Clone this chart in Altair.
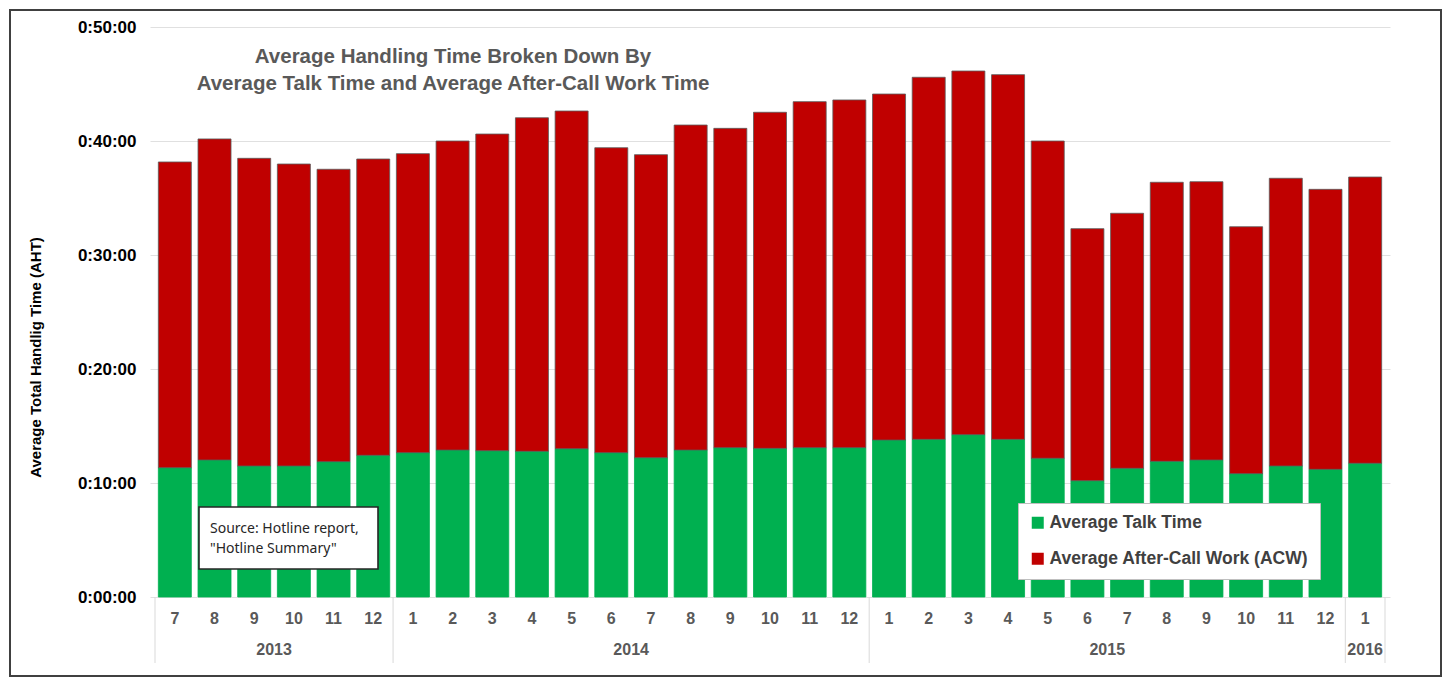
import altair as alt
import pandas as pd

# ---- data (minutes) ----
years = [2013] * 6 + [2014] * 12 + [2015] * 12 + [2016]
months = [7, 8, 9, 10, 11, 12] + list(range(1, 13)) + list(range(1, 13)) + [1]
talk = [11.34, 12.02, 11.49, 11.49, 11.87, 12.43,
        12.66, 12.89, 12.83, 12.78, 13.01, 12.66, 12.22, 12.89, 13.10, 13.04, 13.10, 13.10,
        13.77, 13.83, 14.24, 13.83, 12.17, 10.20, 11.29, 11.90, 12.02, 10.82, 11.49, 11.20,
        11.73]
acw = [26.82, 28.16, 26.99, 26.49, 25.65, 25.99,
       26.23, 27.11, 27.78, 29.26, 29.62, 26.75, 26.58, 28.51, 28.01, 29.48, 30.35, 30.50,
       30.35, 31.76, 31.90, 31.99, 27.83, 22.11, 22.37, 24.48, 24.41, 21.66, 25.24, 24.56,
       25.11]
series_names = ["Average Talk Time", "Average After-Call Work (ACW)"]
series_colors = ["#00B050", "#C00000"]
series_strokes = ["#00B050", "#5a5a5a"]
y_ticks = [0, 10, 20, 30, 40, 50]
title_lines = ["Average Handling Time Broken Down By",
               "Average Talk Time and Average After-Call Work Time"]
y_title = "Average Total Handlig Time (AHT)"
source_lines = ["Source: Hotline report,", "\"Hotline Summary\""]

W, H = 1240, 570
FONT = "Liberation Sans"

rows = []
for i, (yr, mo, t, a) in enumerate(zip(years, months, talk, acw)):
    rows.append({"idx": i, "year": yr, "month": mo, "series": series_names[0], "lo": 0.0, "hi": t})
    rows.append({"idx": i, "year": yr, "month": mo, "series": series_names[1], "lo": t, "hi": t + a})
bars_df = pd.DataFrame(rows)
cat_df = pd.DataFrame({"idx": list(range(len(years))), "year": years, "month": months})
year_df = cat_df.groupby("year", as_index=False)["idx"].mean()

bounds = []
prev = None
for i, yr in enumerate(years):
    if yr != prev:
        bounds.append(i - 0.5)
        prev = yr
bounds.append(len(years) - 0.5)
bounds_df = pd.DataFrame({"b": bounds})


def xenc(field):
    return alt.X(field, scale=alt.Scale(domain=[-0.5, len(years) - 0.5], nice=False, zero=False),
                 axis=None)


bars = alt.Chart(bars_df).mark_bar(size=33, strokeWidth=0.8).encode(
    x=xenc("idx:Q"),
    y=alt.Y("hi:Q",
            scale=alt.Scale(domain=[0, 50], nice=False),
            axis=alt.Axis(values=y_ticks, title=y_title,
                          labelExpr="'0:' + (datum.value < 10 ? '0' : '') + datum.value + ':00'",
                          grid=True, gridColor="#e0e0e0", gridWidth=1,
                          domain=False, ticks=False, labelPadding=14,
                          labelFont=FONT, labelFontSize=17, labelFontWeight="bold", labelColor="#000000",
                          titleFont=FONT, titleFontSize=15, titleFontWeight="bold", titleColor="#000000",
                          titleX=-115, titleY=330, titleAlign="center", titleBaseline="middle")),
    y2="lo:Q",
    color=alt.Color("series:N", scale=alt.Scale(domain=series_names, range=series_colors),
                    legend=alt.Legend(orient="none", legendX=868, legendY=476,
                                      direction="vertical", fillColor="#ffffff", strokeColor="#bfbfbf",
                                      padding=11, symbolType="square", symbolSize=144,
                                      symbolStrokeWidth=0, labelFont=FONT, labelFontSize=17.5,
                                      labelFontWeight="bold", labelColor="#404040",
                                      rowPadding=17, labelOffset=3, labelLimit=400, title="")),
    stroke=alt.Stroke("series:N", scale=alt.Scale(domain=series_names, range=series_strokes),
                      legend=None),
)

month_text = alt.Chart(cat_df).mark_text(
    font=FONT, fontSize=16, fontWeight="bold", color="#595959", baseline="middle"
).encode(
    x=xenc("idx:Q"),
    y=alt.value(H + 22),
    text="month:N",
)

year_text = alt.Chart(year_df).mark_text(
    font=FONT, fontSize=16, fontWeight="bold", color="#595959", baseline="middle"
).encode(
    x=xenc("idx:Q"),
    y=alt.value(H + 53),
    text="year:N",
)

separators = alt.Chart(bounds_df).mark_rule(color="#d9d9d9", strokeWidth=1).encode(
    x=xenc("b:Q"),
    y=alt.value(H),
    y2=alt.value(H + 66),
)

one = pd.DataFrame({"k": [1]})
title1 = alt.Chart(one).mark_text(
    font=FONT, fontSize=20.5, fontWeight="bold", color="#595959", align="center",
    baseline="alphabetic", text=title_lines[0]
).encode(x=alt.value(303), y=alt.value(36))
title2 = alt.Chart(one).mark_text(
    font=FONT, fontSize=20.5, fontWeight="bold", color="#595959", align="center",
    baseline="alphabetic", text=title_lines[1]
).encode(x=alt.value(303), y=alt.value(63))

source_box = alt.Chart(one).mark_rect(fill="#ffffff", stroke="#262626", strokeWidth=1.6).encode(
    x=alt.value(49), x2=alt.value(228), y=alt.value(480), y2=alt.value(542)
)
source_text1 = alt.Chart(one).mark_text(
    font="Noto Sans", fontSize=14, color="#262626", align="left", baseline="middle",
    text=source_lines[0]
).encode(x=alt.value(60), y=alt.value(502))
source_text2 = alt.Chart(one).mark_text(
    font="Noto Sans", fontSize=14, color="#262626", align="left", baseline="middle",
    text=source_lines[1]
).encode(x=alt.value(60), y=alt.value(522))

frame = alt.Chart(one).mark_rect(fill="transparent", stroke="#404040", strokeWidth=2).encode(
    x=alt.value(-140), x2=alt.value(1291), y=alt.value(-17), y2=alt.value(649)
)

chart = alt.layer(
    separators, bars, month_text, year_text, title1, title2,
    source_box, source_text1, source_text2, frame
).properties(
    width=W, height=H,
    padding={"left": 142, "top": 19, "right": 53, "bottom": 81},
    autosize=alt.AutoSizeParams(type="none"),
).configure_view(stroke="transparent")

chart.save("out.html", embed_options={"renderer": "svg", "actions": False})
